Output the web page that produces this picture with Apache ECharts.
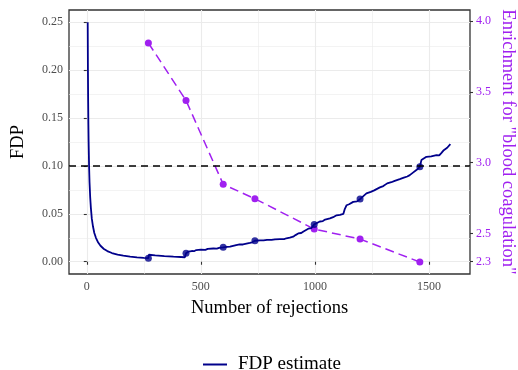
<!DOCTYPE html>
<html>
<head>
<meta charset="utf-8">
<script src="https://cdn.jsdelivr.net/npm/echarts@6/dist/echarts.min.js"></script>
<style>
  html, body { margin: 0; padding: 0; background: #fff; }
  #chart { width: 518px; height: 370px; }
</style>
</head>
<body>
<div id="chart"></div>
<script>
// FDP estimate curve
const rejections = [
  4, 5, 6, 7, 8, 10, 12, 15, 18, 22, 27, 33, 40, 50, 60, 75, 90, 110, 135, 160, 190, 220, 250, 270,
  272, 300, 340, 380, 430,
  435, 445, 460, 470, 480, 500, 520, 530, 555, 570, 580, 598,
  615, 628, 635, 655, 670, 685, 692, 715, 725, 737,
  760, 775, 790, 810, 825, 847, 865, 875, 890, 905, 915, 927, 940, 950, 971, 985, 997,
  1005, 1022, 1035, 1045, 1066, 1080, 1095, 1110, 1125, 1131, 1139, 1150, 1168, 1185, 1198,
  1210, 1226, 1245, 1260, 1285, 1300, 1317, 1335, 1350, 1372, 1390, 1405, 1416, 1430, 1445, 1460,
  1467, 1489, 1510, 1533, 1545, 1555, 1565, 1580, 1594
];
const fdpEstimate = [
  0.25, 0.20, 0.167, 0.143, 0.125, 0.10, 0.083, 0.067, 0.056, 0.045, 0.037, 0.030, 0.025, 0.020, 0.0167, 0.0133, 0.0111, 0.0091, 0.0074, 0.0063, 0.0053, 0.0045, 0.0040, 0.0037,
  0.0073, 0.0067, 0.0059, 0.0053, 0.0047,
  0.0088, 0.0105, 0.0112, 0.0110, 0.0122, 0.0126, 0.0124, 0.0134, 0.0138, 0.0136, 0.0145, 0.0150,
  0.0155, 0.0157, 0.0170, 0.0174, 0.0182, 0.0180, 0.0193, 0.0196, 0.0203, 0.0219,
  0.0224, 0.0222, 0.0229, 0.0228, 0.0234, 0.0237, 0.0236, 0.0245, 0.0252, 0.0262, 0.0278, 0.0295, 0.0300, 0.0316, 0.0345, 0.0352, 0.0390,
  0.0400, 0.0420, 0.0425, 0.0440, 0.0452, 0.0465, 0.0485, 0.0490, 0.0500, 0.0550, 0.0590, 0.0600, 0.0625, 0.0630, 0.0654,
  0.0680, 0.0713, 0.0730, 0.0745, 0.0776, 0.0790, 0.0818, 0.0830, 0.0845, 0.0863, 0.0878, 0.0890, 0.0904, 0.0930, 0.0957, 0.0991,
  0.1061, 0.1095, 0.1100, 0.1113, 0.1110, 0.1137, 0.1165, 0.1190, 0.1228
];

// checkpoints where enrichment was computed
const checkRejections = [270, 435, 598, 737, 997, 1198, 1460];
const checkFdp = [0.0037, 0.0088, 0.0150, 0.0219, 0.0390, 0.0654, 0.0991];
const enrichment = [3.846, 3.44, 2.847, 2.745, 2.531, 2.46, 2.298];

const xTicks = [0, 500, 1000, 1500];
const fdpTicks = [0, 0.05, 0.1, 0.15, 0.2, 0.25];
const rightTicks = [2.3, 2.5, 3.0, 3.5, 4.0];
const fdpThreshold = 0.1;

const FONT = "Liberation Serif";
const NAVY = "#00008b";
const PURPLE = "#a020f0";

const chart = echarts.init(document.getElementById("chart"), null, { renderer: "canvas" });

const option = {
  animation: false,
  backgroundColor: "#fff",
  textStyle: { fontFamily: FONT },
  grid: {
    left: 69, right: 48, top: 10, bottom: 96,
    outerBoundsMode: "none",
    containLabel: false,
    show: true, borderColor: "#333", borderWidth: 1.3, backgroundColor: "transparent"
  },
  legend: {
    data: [{ name: "FDP estimate", icon: "rect" }],
    left: 198, top: 350,
    itemWidth: 24, itemHeight: 2,
    textStyle: { fontFamily: FONT, fontSize: 19, color: "#000", padding: [0, 0, 0, 6] }
  },
  xAxis: {
    type: "value",
    min: -78, max: 1680, splitNumber: 4,
    name: "Number of rejections",
    nameLocation: "middle", nameGap: 25,
    nameTextStyle: { fontFamily: FONT, fontSize: 18.5, color: "#000" },
    axisLine: { show: false },
    axisTick: { show: true, length: 3, customValues: xTicks, lineStyle: { color: "#333", width: 1.1 } },
    axisLabel: {
      customValues: xTicks, color: "#4d4d4d", fontSize: 12, fontFamily: FONT, margin: 7,
      formatter: v => String(v)
    },
    splitLine: { show: true, lineStyle: { color: "#ebebeb", width: 1.1 } },
    minorTick: { show: false, splitNumber: 2 },
    minorSplitLine: { show: true, lineStyle: { color: "#ebebeb", width: 0.6 } }
  },
  yAxis: [
    {
      type: "value",
      min: -0.0128, max: 0.2628, splitNumber: 5,
      name: "FDP",
      nameLocation: "middle", nameGap: 41,
      nameTextStyle: { fontFamily: FONT, fontSize: 18.5, color: "#000" },
      axisLine: { show: false },
      axisTick: { show: true, length: 3, customValues: fdpTicks, lineStyle: { color: "#333", width: 1.1 } },
      axisLabel: {
        customValues: fdpTicks,
        color: "#4d4d4d", fontSize: 12, fontFamily: FONT, margin: 6,
        formatter: v => v.toFixed(2)
      },
      splitLine: { show: true, lineStyle: { color: "#ebebeb", width: 1.1 } },
      minorTick: { show: false, splitNumber: 2 },
      minorSplitLine: { show: true, lineStyle: { color: "#ebebeb", width: 0.6 } }
    },
    {
      type: "value",
      position: "right",
      min: 2.2133, max: 4.079,
      name: "Enrichment for \"blood coagulation\"",
      nameLocation: "middle", nameGap: 28, nameRotate: -90,
      nameMoveOverlap: false,
      nameTextStyle: { fontFamily: FONT, fontSize: 18.5, color: PURPLE },
      axisLine: { show: false },
      axisTick: { show: true, length: 3, customValues: rightTicks, lineStyle: { color: "#333", width: 1.1 } },
      axisLabel: {
        customValues: rightTicks,
        color: PURPLE, fontSize: 12, fontFamily: FONT, margin: 6,
        formatter: v => v.toFixed(1)
      },
      splitLine: { show: false }
    }
  ],
  series: [
    {
      name: "Enrichment",
      type: "line",
      yAxisIndex: 1,
      data: checkRejections.map((r, i) => [r, enrichment[i]]),
      symbol: "circle", symbolSize: 7,
      itemStyle: { color: PURPLE },
      lineStyle: { color: PURPLE, width: 1.5, type: [9, 5] },
      z: 2
    },
    {
      name: "FDP estimate",
      type: "line",
      data: rejections.map((r, i) => [r, fdpEstimate[i]]),
      symbol: "none",
      lineStyle: { color: NAVY, width: 1.8 },
      itemStyle: { color: NAVY },
      markLine: {
        silent: true,
        symbol: ["none", "none"],
        label: { show: false },
        lineStyle: { color: "#000", type: [7, 5], width: 1.6 },
        data: [{ yAxis: fdpThreshold }]
      },
      z: 3
    },
    {
      name: "checkpoints",
      type: "scatter",
      data: checkRejections.map((r, i) => [r, checkFdp[i]]),
      symbolSize: 7,
      itemStyle: { color: NAVY },
      z: 4
    }
  ]
};

chart.setOption(option);
</script>
</body>
</html>
